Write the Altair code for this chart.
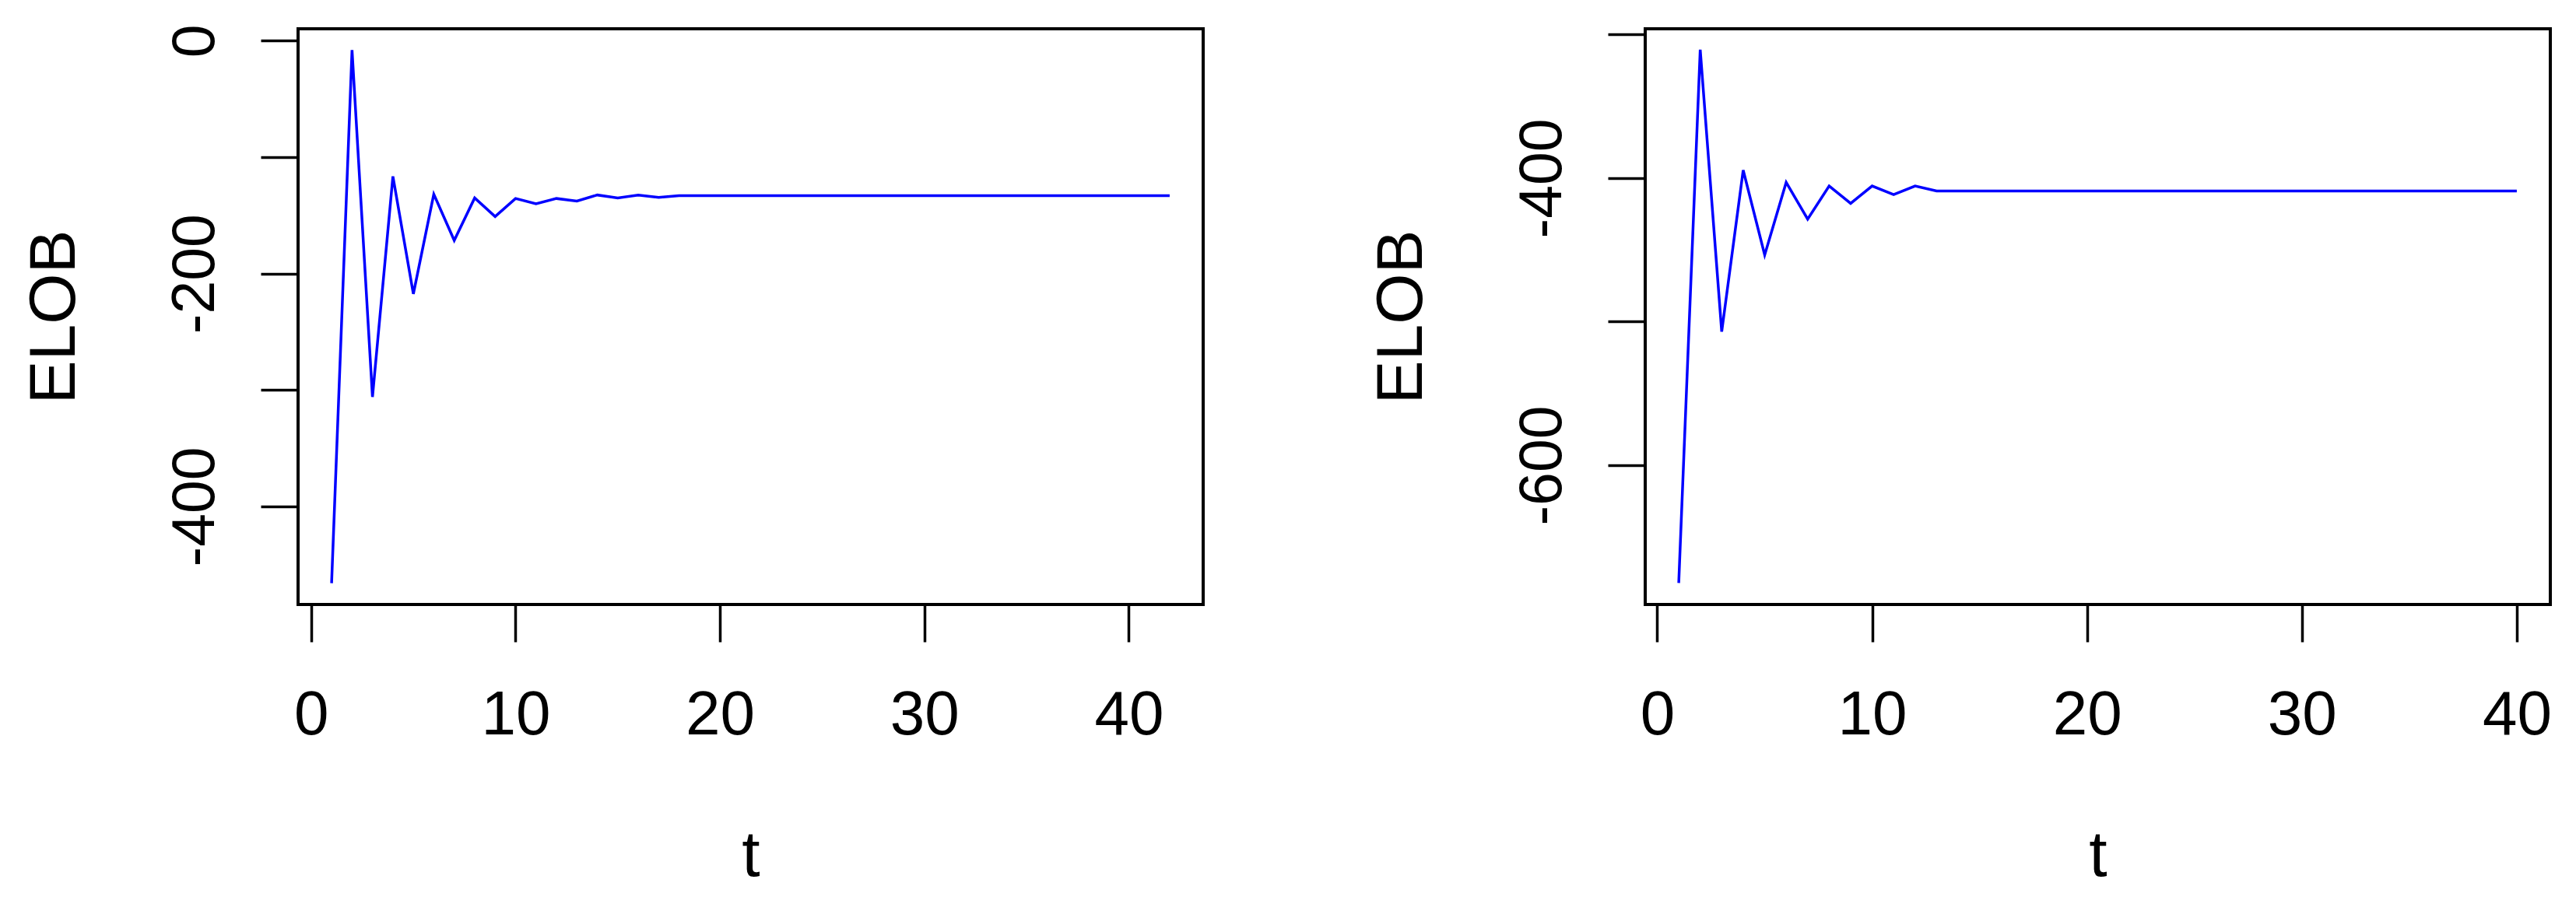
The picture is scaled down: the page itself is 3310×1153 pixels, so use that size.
import altair as alt
import pandas as pd

# ---- data ----
t_left = list(range(1, 43))
elob_left = [-466, -8, -306, -116.5, -217.5, -131.8, -171.5, -135, -151, -135.5,
             -140, -135.5, -137.7, -132.5, -135, -132.5, -134.5, -133, -133, -133,
             -133, -133, -133, -133, -133, -133, -133, -133, -133, -133,
             -133, -133, -133, -133, -133, -133, -133, -133, -133, -133,
             -133, -133]

t_right = list(range(1, 41))
elob_right = [-682, -310.5, -507, -394.5, -453.5, -403, -428.6, -405.5, -417.6, -405.5,
              -411.5, -405.5, -409, -409, -409, -409, -409, -409, -409, -409,
              -409, -409, -409, -409, -409, -409, -409, -409, -409, -409,
              -409, -409, -409, -409, -409, -409, -409, -409, -409, -409]

x_ticks = [0, 10, 20, 30, 40]
y_ticks_left = [0, -100, -200, -300, -400]
y_ticks_right = [-300, -400, -500, -600]

FONT = "Liberation Sans"
XFONT = "Liberation Sans Narrow, Liberation Sans"
W, H = 1163, 740
LABEL_SIZE = 77
TITLE_SIZE = 84


def panel(t, vals, xdom, ydom, yticks):
    df = pd.DataFrame({"t": t, "ELOB": vals})
    return alt.Chart(df).mark_line(color="#0000FF", strokeWidth=3.5).encode(
        x=alt.X("t:Q",
                scale=alt.Scale(domain=xdom, nice=False, zero=False),
                axis=alt.Axis(values=x_ticks, title="t", domain=False, grid=False,
                              tickSize=48, tickWidth=3.5, tickColor="black",
                              labelFont=XFONT, labelFontSize=80, labelColor="black",
                              labelBaseline="alphabetic", labelAlign="center",
                              labelPadding=118, labelFlush=False, labelOverlap=False,
                              titleFont=FONT, titleFontSize=TITLE_SIZE, titleFontWeight="normal",
                              titleColor="black", titleBaseline="alphabetic", titleAlign="center",
                              titleX=W / 2, titleY=348)),
        y=alt.Y("ELOB:Q",
                scale=alt.Scale(domain=ydom, nice=False, zero=False),
                axis=alt.Axis(values=yticks, title="ELOB", domain=False, grid=False,
                              labelExpr="datum.value % 200 == 0 ? '' + datum.value : ''",
                              tickSize=48, tickWidth=3.5, tickColor="black",
                              labelFont=FONT, labelFontSize=LABEL_SIZE, labelColor="black",
                              labelAngle=270, labelAlign="center", labelBaseline="alphabetic",
                              labelPadding=61, labelFlush=False, labelOverlap=False,
                              titleFont=FONT, titleFontSize=TITLE_SIZE, titleFontWeight="normal",
                              titleColor="black", titleAngle=270, titleAlign="center",
                              titleBaseline="alphabetic", titleX=-288, titleY=H / 2)),
    ).properties(width=W, height=H)


left = panel(t_left, elob_left, [-0.64, 43.64], [-484.3, 10.3], y_ticks_left)
right = panel(t_right, elob_right, [-0.56, 41.56], [-697, -296], y_ticks_right)

chart = alt.hconcat(left, right, spacing=568, bounds="flush").properties(
    padding={"left": 18, "top": 20, "right": 5, "bottom": 5},
    background="white",
).configure_view(stroke="black", strokeWidth=4)

chart.save("out.html", embed_options={"renderer": "svg", "actions": False})
